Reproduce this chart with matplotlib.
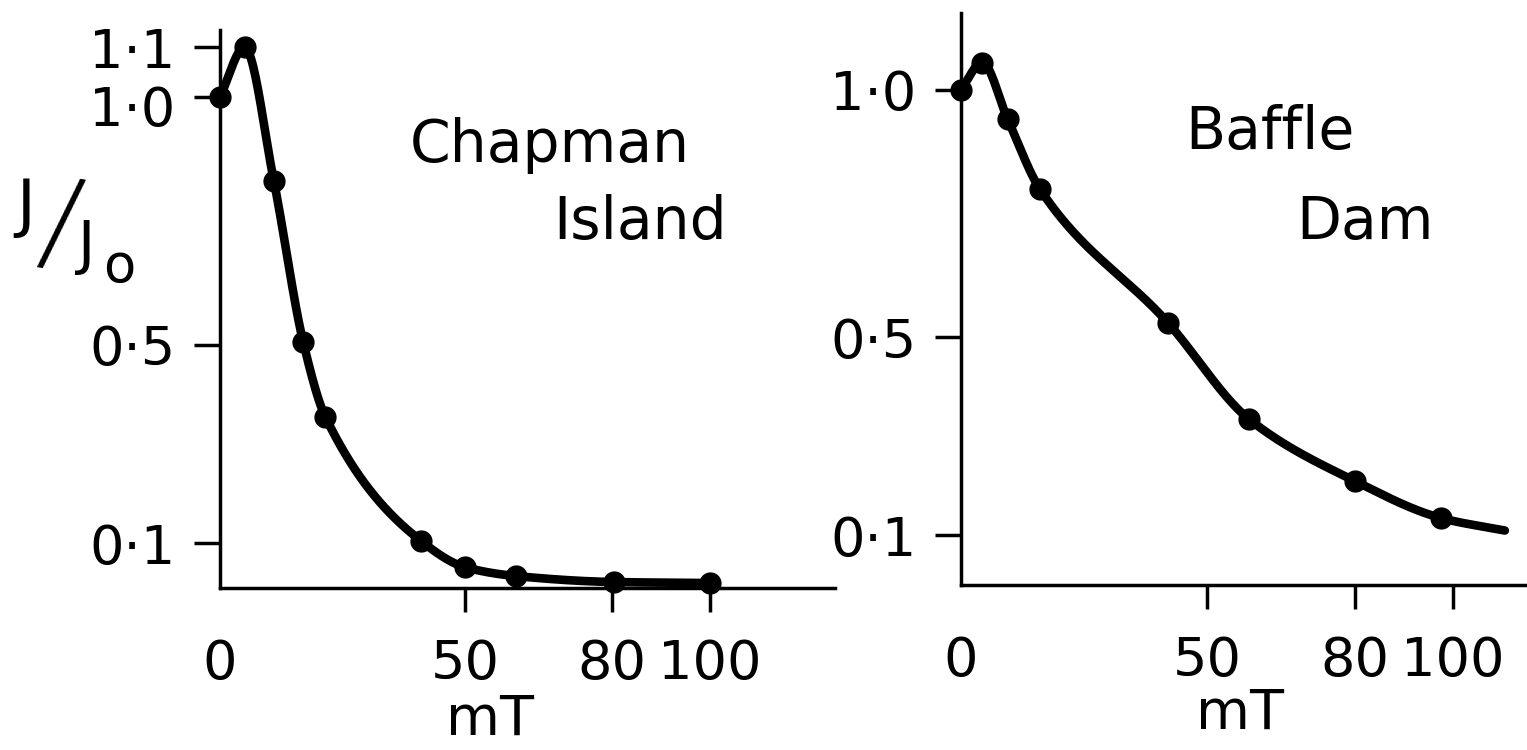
import numpy as np
import matplotlib
matplotlib.use("Agg")
import matplotlib.pyplot as plt
from matplotlib.transforms import ScaledTranslation

# Chapman Island : J/Jo en fonction du champ alternatif (mT)
chap_x = [0, 5, 11, 17, 21.5, 41, 50, 60.5, 80.5, 100]
chap_y = [1.00, 1.10, 0.83, 0.505, 0.355, 0.105, 0.052, 0.034, 0.022, 0.020]

# Baffle Dam (la courbe continue un peu après le dernier point)
baffle_x = [0, 4.3, 9.5, 16, 42, 58.5, 80, 97.6]
baffle_y = [1.00, 1.055, 0.94, 0.80, 0.53, 0.335, 0.21, 0.135]
baffle_fin_x, baffle_fin_y = 110.5, 0.11

xticks = [0, 50, 80, 100]
xticklabels = ["0", "50", "80", "100"]
yticks_gauche = [0.1, 0.5, 1.0, 1.1]
ylabels_gauche = ["0·1", "0·5", "1·0", "1·1"]
yticks_droite = [0.1, 0.5, 1.0]
ylabels_droite = ["0·1", "0·5", "1·0"]


def pchip(x, y, xn):
    # interpolation monotone (Fritsch-Carlson) pour tracer la courbe lissée
    x = np.asarray(x, float); y = np.asarray(y, float)
    h = np.diff(x); d = np.diff(y) / h
    m = np.zeros_like(y)
    for k in range(1, len(x) - 1):
        if d[k - 1] * d[k] > 0:
            w1 = 2 * h[k] + h[k - 1]; w2 = h[k] + 2 * h[k - 1]
            m[k] = (w1 + w2) / (w1 / d[k - 1] + w2 / d[k])
    m[0] = d[0]; m[-1] = d[-1]
    i = np.clip(np.searchsorted(x, xn) - 1, 0, len(x) - 2)
    t = (xn - x[i]) / h[i]
    h00 = 2 * t**3 - 3 * t**2 + 1; h10 = t**3 - 2 * t**2 + t
    h01 = -2 * t**3 + 3 * t**2; h11 = t**3 - t**2
    return h00 * y[i] + h10 * h[i] * m[i] + h01 * y[i + 1] + h11 * h[i] * m[i + 1]


W, H = 1527, 750
fig = plt.figure(figsize=(W / 100, H / 100), dpi=100)
fig.patch.set_facecolor("white")


def boite(x0, x1, yh, yb):
    return [x0 / W, 1 - yb / H, (x1 - x0) / W, (yb - yh) / H]


FS = 39
LW, MS = 6.2, 15

def habiller(ax, yt, yl):
    for s in ("top", "right"):
        ax.spines[s].set_visible(False)
    for s in ("left", "bottom"):
        ax.spines[s].set_linewidth(2.5)
    ax.set_xticks(xticks); ax.set_xticklabels(xticklabels)
    ax.set_yticks(yt); ax.set_yticklabels(yl)
    ax.tick_params(axis="x", direction="out", length=17, width=2.5, pad=19, labelsize=FS)
    ax.tick_params(axis="y", direction="out", length=19, width=2.5, pad=13, labelsize=FS)
    ax.xaxis.get_major_ticks()[0].tick1line.set_visible(False)
    ax.set_facecolor("none")


# Panneau gauche
ax1 = fig.add_axes(boite(220, 835, 30, 588))
ax1.set_xlim(0, 125.5); ax1.set_ylim(0.01, 1.135)
xs = np.linspace(chap_x[0], chap_x[-1], 400)
ax1.plot(xs, pchip(chap_x, chap_y, xs), color="black", lw=LW, clip_on=False,
         solid_capstyle="round")
ax1.plot(chap_x, chap_y, "o", color="black", ms=MS, clip_on=False)
habiller(ax1, yticks_gauche, ylabels_gauche)
# le "1·0" est écrit un peu sous son trait dans l'original
lab = ax1.get_yticklabels()[2]
lab.set_transform(lab.get_transform() + ScaledTranslation(0, -9 / 100, fig.dpi_scale_trans))

# Panneau droit
ax2 = fig.add_axes(boite(961, 1527, 13, 585))
ax2.set_xlim(0, 115); ax2.set_ylim(0.0, 1.155)
bx = baffle_x + [baffle_fin_x]; by = baffle_y + [baffle_fin_y]
xs = np.linspace(bx[0], bx[-1], 400)
ax2.plot(xs, pchip(bx, by, xs), color="black", lw=LW, clip_on=False,
         solid_capstyle="round")
ax2.plot(baffle_x, baffle_y, "o", color="black", ms=MS, clip_on=False)
habiller(ax2, yticks_droite, ylabels_droite)


def txt(x, y, s, **kw):
    fig.text(x / W, 1 - y / H, s, ha="center", va="center", **kw)


txt(550, 145, "Chapman", fontsize=42)
txt(640, 222, "Island", fontsize=42)
txt(1270, 133, "Baffle", fontsize=42)
txt(1365, 223, "Dam", fontsize=42)
txt(490, 720, "mT", fontsize=40)
txt(1240, 714, "mT", fontsize=40)

# étiquette J/Jo
txt(26, 207, "J", fontsize=46)
txt(60, 228, "/", fontsize=82, rotation=-9, fontweight="light")
txt(87, 246, "J", fontsize=42)
txt(119, 267, "o", fontsize=38)

fig.savefig("out.png", dpi=100, facecolor="white")
